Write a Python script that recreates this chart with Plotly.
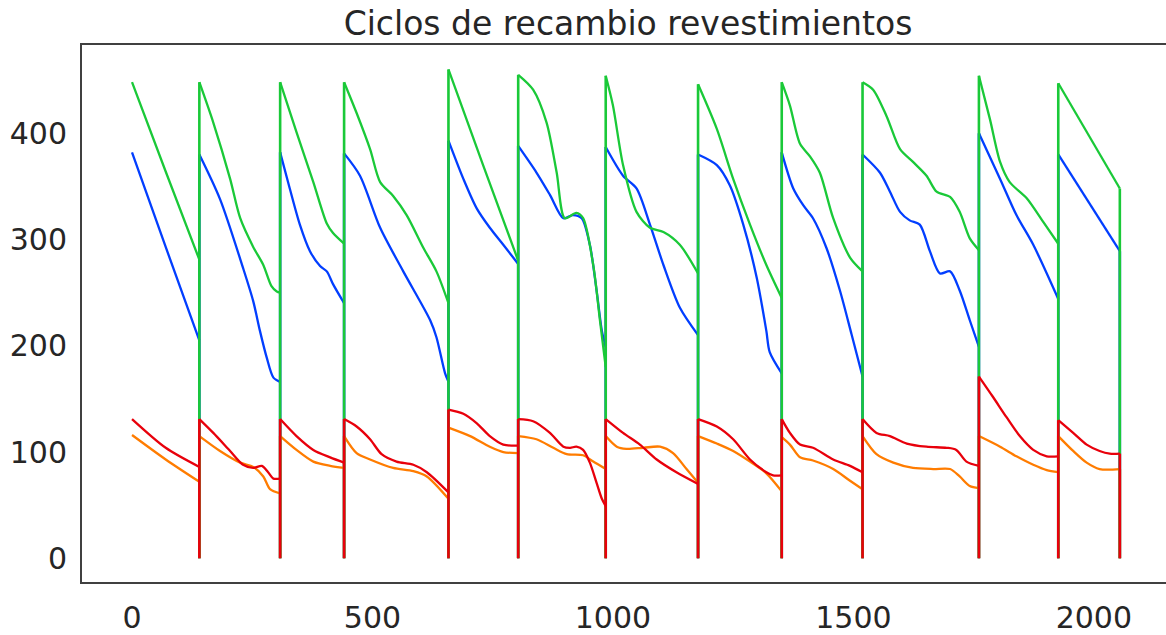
import plotly.graph_objects as go

# Días de operación y desgaste medido por serie; el valor 0 marca el día de recambio
dias_azul = [0, 70, 140, 140,
             140, 183, 231, 252, 266, 280, 294, 308, 308,
             308, 328, 349, 370, 391, 405, 418, 441, 441,
             441, 474, 516, 564, 620, 633, 651, 658, 658,
             658, 689, 717, 744, 772, 803, 803,
             803, 841, 869, 897, 917, 935, 952, 966, 977, 985, 985,
             985, 1021, 1049, 1077, 1105, 1139, 1177, 1177,
             1177, 1216, 1243, 1271, 1299, 1319, 1326, 1351, 1351,
             1351, 1375, 1396, 1416, 1444, 1472, 1496, 1519, 1519,
             1519, 1555, 1576, 1597, 1617, 1638, 1659, 1680, 1701, 1721, 1742, 1761, 1761,
             1761, 1805, 1839, 1874, 1926, 1926,
             1926, 2054, 2054]
azul = [382, 293, 205, 0,
        380, 338, 273, 242, 214, 189, 170, 166, 0,
        382, 348, 314, 289, 275, 270, 258, 240, 0,
        381, 360, 311, 270, 224, 208, 174, 166, 0,
        393, 357, 329, 311, 295, 277, 0,
        388, 363, 342, 320, 323, 320, 295, 252, 214, 199, 0,
        387, 360, 348, 314, 276, 236, 210, 0,
        380, 370, 351, 314, 264, 214, 194, 174, 0,
        382, 348, 332, 320, 292, 252, 211, 171, 0,
        380, 363, 345, 326, 318, 314, 289, 268, 270, 252, 224, 199, 0,
        400, 357, 323, 295, 244, 0,
        380, 289, 0]

dias_naranja = [0, 70, 140, 140,
                140, 183, 225, 252, 273, 287, 308, 308,
                308, 342, 377, 412, 441, 441,
                441, 467, 495, 543, 585, 613, 658, 658,
                658, 703, 744, 772, 803, 803,
                803, 841, 876, 904, 938, 959, 985, 985,
                985, 1008, 1028, 1063, 1098, 1125, 1153, 1177, 1177,
                1177, 1216, 1250, 1285, 1319, 1351, 1351,
                1351, 1368, 1389, 1416, 1458, 1493, 1519, 1519,
                1519, 1548, 1583, 1624, 1666, 1701, 1721, 1742, 1761, 1761,
                1761, 1805, 1839, 1874, 1902, 1926, 1926,
                1926, 1957, 1985, 2012, 2054, 2054]
naranja = [116, 93, 72, 0,
           115, 101, 90, 86, 77, 65, 61, 0,
           115, 102, 91, 87, 85, 0,
           115, 99, 93, 85, 82, 77, 56, 0,
           123, 115, 105, 100, 99, 0,
           115, 112, 104, 98, 97, 91, 84, 0,
           115, 105, 103, 104, 105, 99, 84, 71, 0,
           115, 108, 101, 91, 80, 63, 0,
           114, 107, 95, 92, 84, 73, 65, 0,
           115, 98, 90, 85, 84, 84, 77, 68, 66, 0,
           115, 105, 96, 88, 83, 81, 0,
           115, 101, 90, 84, 84, 0]

dias_verde = [0, 70, 140, 140,
              140, 169, 204, 225, 252, 273, 290, 301, 308, 308,
              308, 342, 377, 405, 418, 441, 441,
              441, 467, 495, 516, 543, 571, 606, 633, 658, 658,
              658, 730, 803, 803,
              803, 834, 862, 883, 900, 924, 938, 959, 973, 985, 985,
              985, 1000, 1021, 1049, 1077, 1105, 1139, 1177, 1177,
              1177, 1216, 1250, 1285, 1319, 1351, 1351,
              1351, 1368, 1389, 1410, 1430, 1458, 1493, 1519, 1519,
              1519, 1541, 1569, 1597, 1624, 1652, 1673, 1701, 1721, 1742, 1761, 1761,
              1761, 1784, 1805, 1825, 1860, 1894, 1926, 1926,
              1926, 2054, 2054]
verde = [448, 364, 281, 0,
         448, 410, 357, 320, 293, 276, 256, 251, 250, 0,
         448, 401, 354, 315, 306, 296, 0,
         448, 419, 385, 354, 341, 323, 292, 270, 240, 0,
         460, 370, 280, 0,
         455, 441, 410, 363, 320, 325, 320, 276, 224, 180, 0,
         454, 426, 370, 326, 311, 307, 295, 268, 0,
         446, 404, 357, 314, 276, 245, 0,
         448, 426, 390, 378, 363, 320, 283, 270, 0,
         448, 441, 416, 385, 373, 360, 345, 340, 326, 301, 290, 0,
         454, 413, 373, 354, 339, 317, 296, 0,
         447, 348, 0]

dias_rojo = [0, 70, 140, 140,
             140, 169, 204, 231, 252, 270, 283, 294, 308, 308,
             308, 342, 377, 412, 441, 441,
             441, 467, 495, 519, 550, 585, 613, 658, 658,
             658, 689, 717, 744, 772, 803, 803,
             803, 834, 869, 897, 911, 924, 938, 952, 966, 977, 985, 985,
             985, 1021, 1056, 1091, 1132, 1177, 1177,
             1177, 1216, 1250, 1285, 1319, 1333, 1351, 1351,
             1351, 1368, 1389, 1416, 1458, 1493, 1519, 1519,
             1519, 1548, 1576, 1611, 1652, 1694, 1714, 1735, 1761, 1761,
             1761, 1790, 1818, 1846, 1874, 1902, 1926, 1926,
             1926, 1957, 1985, 2012, 2033, 2054, 2054]
rojo = [131, 104, 86, 0,
        131, 118, 101, 88, 85, 87, 81, 75, 75, 0,
        131, 115, 102, 95, 90, 0,
        131, 124, 112, 98, 91, 88, 81, 62, 0,
        140, 136, 127, 115, 107, 106, 0,
        131, 129, 118, 105, 104, 105, 102, 90, 71, 56, 49, 0,
        131, 118, 107, 93, 81, 70, 0,
        131, 124, 112, 93, 81, 78, 78, 0,
        131, 118, 107, 104, 93, 87, 81, 0,
        131, 118, 115, 108, 105, 104, 102, 91, 87, 0,
        171, 152, 133, 115, 102, 96, 96, 0,
        130, 118, 107, 101, 98.5, 98.5, 0]

series = [
    (dias_azul, azul, "#023eff"),
    (dias_naranja, naranja, "#ff7c00"),
    (dias_verde, verde, "#1ac938"),
    (dias_rojo, rojo, "#e8000b"),
]

TEXTO = "#262626"
FUENTE = "DejaVu Sans"


def separar(xs, ys):
    """Separa cada serie en tramos suaves de desgaste y saltos de recambio."""
    cx, cy, rx, ry = [], [], [], []
    for i, (x, y) in enumerate(zip(xs, ys)):
        if y == 0:
            cx.append(None)
            cy.append(None)
            rx += [xs[i - 1], x]
            ry += [ys[i - 1], 0]
            if i + 1 < len(xs):
                rx.append(xs[i + 1])
                ry.append(ys[i + 1])
            rx.append(None)
            ry.append(None)
        else:
            cx.append(x)
            cy.append(y)
    return cx, cy, rx, ry


fig = go.Figure()
for xs, ys, color in series:
    cx, cy, rx, ry = separar(xs, ys)
    fig.add_trace(go.Scatter(
        x=cx, y=cy, mode="lines", connectgaps=False,
        line=dict(color=color, width=2.3, shape="spline", smoothing=0.8),
        showlegend=False, hoverinfo="skip"))
    fig.add_trace(go.Scatter(
        x=rx, y=ry, mode="lines", connectgaps=False,
        line=dict(color=color, width=2.6),
        showlegend=False, hoverinfo="skip"))

fig.update_layout(
    width=1166, height=635,
    margin=dict(l=82, r=0, t=45, b=48),
    paper_bgcolor="white", plot_bgcolor="white",
    font=dict(family=FUENTE, color=TEXTO, size=30),
    title=dict(
        text="Ciclos de recambio revestimientos",
        x=628 / 1166, xref="container", xanchor="center",
        y=1 - 23 / 635, yref="container", yanchor="middle",
        font=dict(family=FUENTE, color=TEXTO, size=33),
    ),
)
fig.update_xaxes(
    range=[-104, 2150],
    tickvals=[0, 500, 1000, 1500, 2000],
    showgrid=False, zeroline=False,
    showline=True, linecolor="#404040", linewidth=2, mirror=True,
    ticks="", ticklabelstandoff=8,
    tickfont=dict(family=FUENTE, color=TEXTO, size=30),
)
fig.update_yaxes(
    range=[-22.3, 483],
    tickvals=[0, 100, 200, 300, 400],
    showgrid=False, zeroline=False,
    showline=True, linecolor="#404040", linewidth=2, mirror=False,
    ticks="", ticklabelstandoff=7,
    tickfont=dict(family=FUENTE, color=TEXTO, size=30),
)

fig.write_html("out.html")
